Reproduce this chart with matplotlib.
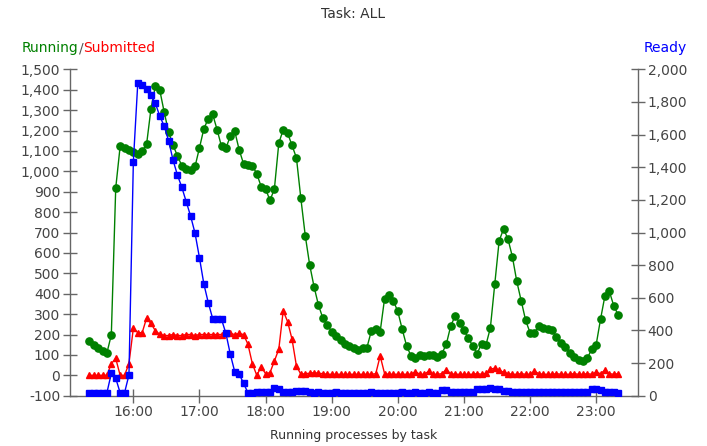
import matplotlib
matplotlib.use('Agg')
import matplotlib.pyplot as plt
from matplotlib.ticker import FuncFormatter
import pandas as pd

# ---- data (4-minute samples starting 15:20) ----
start_time = '2024-01-01 15:20'
sample_freq = '4min'

running = [169, 149, 133, 119, 110, 198, 918, 1122, 1115, 1106,
           1097, 1085, 1100, 1132, 1307, 1417, 1397, 1290, 1192, 1129,
           1075, 1028, 1012, 1007, 1024, 1115, 1209, 1258, 1279, 1204,
           1122, 1115, 1171, 1197, 1106, 1037, 1033, 1028, 988, 925,
           914, 857, 914, 1138, 1204, 1187, 1127, 1066, 868, 685,
           542, 434, 344, 280, 247, 214, 193, 172, 155, 144,
           133, 125, 133, 136, 218, 226, 214, 376, 395, 365,
           313, 226, 144, 95, 84, 100, 95, 100, 100, 90,
           106, 152, 241, 291, 258, 221, 182, 144, 106, 155,
           149, 232, 447, 660, 717, 668, 581, 460, 365, 270,
           209, 209, 242, 231, 226, 221, 188, 160, 139, 111,
           90, 74, 70, 84, 128, 149, 275, 390, 411, 341,
           296]

submitted = [0, 0, 0, 0, 0, 57, 83, 0, 0, 57,
             231, 209, 209, 280, 254, 218, 201,
             195, 195, 200, 195, 195, 200, 200, 195, 200, 200,
             200, 200, 200, 200, 205, 205, 200, 205, 200,
             152, 57, 0, 41, 8, 13, 70, 128, 316, 263, 177, 46, 5,
             8, 10, 13, 10, 8, 5, 5, 5, 5, 5, 5, 5, 5, 5, 5, 5, 8,
             95,
             8, 5, 5, 5, 5, 5, 5,
             18, 5, 5, 20, 5, 5, 8, 28, 8, 5, 5, 5, 5, 5, 8, 5, 10,
             30, 35, 25, 15, 8, 5, 5, 8, 5, 5, 20, 8, 5, 5, 5, 8, 5,
             5, 5, 8, 5, 5, 8, 5, 15, 8, 25, 8, 5, 8]

ready = [18, 18, 18, 18, 18, 137, 107, 18, 18, 127,
         1434, 1914, 1904, 1878, 1842, 1791, 1713, 1652, 1562, 1444,
         1352, 1277, 1188, 1100, 995, 845, 684, 570, 472, 468,
         468, 382, 254, 147, 133, 76,
         18, 18, 20, 20, 22, 25,
         45, 39,
         25, 22, 25, 30, 30, 28,
         20, 18, 20, 18, 18, 18, 20, 18, 18, 18,
         18, 18, 18, 18, 20, 18, 18, 18, 18, 18,
         18, 20, 18, 18, 20, 18, 18, 20, 18, 18,
         35, 35, 25, 20, 20, 22, 20, 22,
         40, 40, 43, 45, 43, 40, 30, 28,
         25, 25, 22, 22, 22, 20, 22, 20, 20, 20, 20, 22, 20, 20, 22, 20, 22, 22,
         40, 40, 35, 25, 22, 20, 18]

left_ticks = list(range(-100, 1501, 100))
right_ticks = list(range(0, 2001, 200))
hour_ticks = ['16:00', '17:00', '18:00', '19:00', '20:00', '21:00', '22:00', '23:00']

times = pd.date_range(start_time, periods=len(running), freq=sample_freq)

GREEN = '#008000'
RED = '#ff0000'
BLUE = '#0000ff'
SPINE = '#666666'
LABEL = '#444444'

fig = plt.figure(figsize=(7.07, 4.46), dpi=100)
ax = fig.add_axes([70/707, 1 - 395.7/446, (638-70)/707, (395.7-69.3)/446])
ax2 = ax.twinx()

ax.plot(times, running, color=GREEN, lw=1.0, marker='o', ms=5.2, mec=GREEN, mfc=GREEN, zorder=3)
ax.plot(times, submitted, color=RED, lw=1.0, marker='^', ms=5, mec=RED, mfc=RED, zorder=4)
ax2.plot(times, ready, color=BLUE, lw=1.0, marker='s', ms=4.8, mec=BLUE, mfc=BLUE, zorder=3)

ax.set_ylim(-100, 1500)
ax2.set_ylim(0, 2000)
xmin = pd.Timestamp('2024-01-01 15:02:30')
xmax = pd.Timestamp('2024-01-01 23:38:00')
ax.set_xlim(xmin, xmax)

ax.set_yticks(left_ticks)
ax2.set_yticks(right_ticks)
fmt = FuncFormatter(lambda v, p: f"{v:,.0f}")
ax.yaxis.set_major_formatter(fmt)
ax2.yaxis.set_major_formatter(fmt)

hour_pos = [pd.Timestamp('2024-01-01 ' + h) for h in hour_ticks]
ax.set_xticks(hour_pos)
ax.set_xticklabels(hour_ticks)

for a in (ax, ax2):
    a.spines['top'].set_visible(False)
    for s in a.spines.values():
        s.set_color(SPINE)
        s.set_linewidth(1.0)
    a.tick_params(direction='inout', length=10, width=1, color=SPINE,
                  labelcolor=LABEL, labelsize=10, pad=2)
ax.spines['right'].set_visible(False)
ax2.spines['left'].set_visible(False)
ax2.spines['bottom'].set_visible(False)

fig.text(0.5, 1 - 14/446, 'Task: ALL', ha='center', va='center', fontsize=10, color='#333333')
fig.text(354/707, 1 - 436/446, 'Running processes by task', ha='center', va='center',
         fontsize=9, color='#333333')

# multi-coloured left axis title
t1 = fig.text(22/707, 1 - 48/446, 'Running', ha='left', va='center', fontsize=10, color=GREEN)
fig.canvas.draw()
r = fig.canvas.get_renderer()
bb = t1.get_window_extent(r)
base_y = bb.y0 / fig.bbox.height
t1.set_va('bottom')
t1.set_position((22/707, base_y))
t2 = fig.text(bb.x1 / fig.bbox.width, base_y, '/', ha='left', va='bottom', fontsize=10, color='#555555')
bb2 = t2.get_window_extent(r)
fig.text(bb2.x1 / fig.bbox.width, base_y, 'Submitted', ha='left', va='bottom',
         fontsize=10, color=RED)
fig.text(687/707, 1 - 48/446, 'Ready', ha='right', va='center', fontsize=10, color=BLUE)

fig.savefig('out.png', dpi=100)
